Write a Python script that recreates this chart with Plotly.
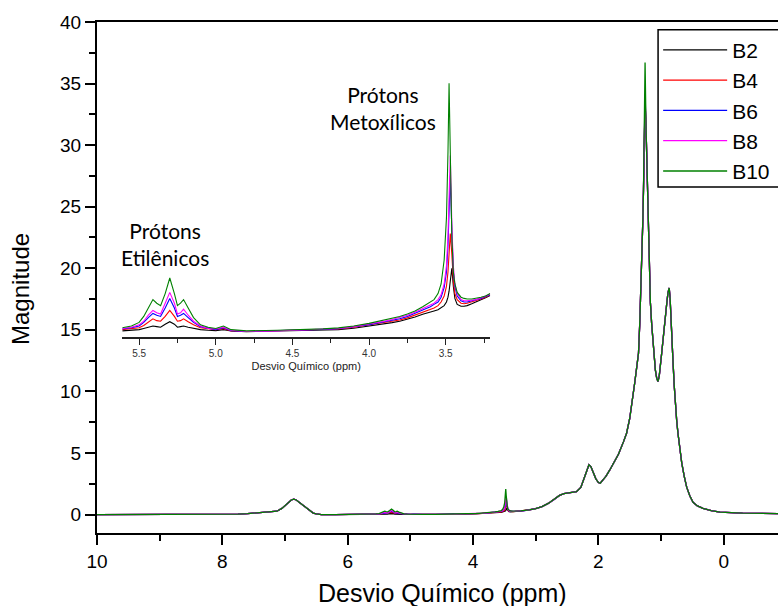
import plotly.graph_objects as go

# Sample names and trace colours
series_names = ["B2", "B4", "B6", "B8", "B10"]
series_colors = ["#000000", "#ff0000", "#0000ff", "#ff00ff", "#008000"]

# Downfield part of the spectrum (10 -> 5.65 ppm), common to all samples
ppm_high = [10.0, 9.5, 9.0, 8.5, 8.0, 7.75, 7.6, 7.48, 7.3, 7.13, 7.05, 7.0, 6.95,
            6.9, 6.86, 6.82, 6.77, 6.7, 6.65, 6.6, 6.55, 6.5, 6.42, 6.2, 6.0, 5.8, 5.65]
mag_high = [0.0, 0.0, 0.0, 0.01, 0.01, 0.03, 0.07, 0.13, 0.2, 0.27, 0.5, 0.72, 0.98,
            1.18, 1.25, 1.18, 0.98, 0.7, 0.48, 0.3, 0.12, 0.05, 0.0, 0.0, 0.0, 0.01, 0.02]

# Ethylenic / methoxy window (5.61 -> 3.21 ppm), one list per sample
ppm_mid = [5.61, 5.55, 5.5, 5.47, 5.44, 5.41, 5.385, 5.36, 5.33, 5.30, 5.27, 5.25, 5.23,
           5.21, 5.18, 5.145, 5.10, 5.05, 5.0, 4.95, 4.9, 4.8, 4.6, 4.4, 4.3, 4.2, 4.1,
           4.0, 3.95, 3.9, 3.85, 3.8, 3.75, 3.7, 3.65, 3.6, 3.576, 3.55, 3.53, 3.51,
           3.495, 3.485, 3.478, 3.47, 3.46, 3.45, 3.44, 3.425, 3.40, 3.38, 3.36, 3.33,
           3.30, 3.27, 3.24, 3.21]
b2_mid = [0.01, 0.015, 0.02, 0.03, 0.04, 0.05, 0.045, 0.04, 0.065, 0.086, 0.065, 0.04, 0.045,
          0.05, 0.04, 0.03, 0.02, 0.015, 0.012, 0.02, 0.008, 0.003, 0.008, 0.012, 0.015, 0.02, 0.032,
          0.048, 0.058, 0.068, 0.078, 0.09, 0.105, 0.125, 0.148, 0.17, 0.175, 0.185, 0.2, 0.22,
          0.25, 0.29, 0.34, 0.42, 0.53, 0.38, 0.28, 0.23, 0.215, 0.215, 0.22, 0.235,
          0.25, 0.27, 0.285, 0.305]
b4_mid = [0.02, 0.025, 0.035, 0.055, 0.085, 0.11, 0.095, 0.09, 0.13, 0.18, 0.13, 0.09, 0.095,
          0.11, 0.085, 0.06, 0.035, 0.025, 0.02, 0.03, 0.01, 0.005, 0.01, 0.015, 0.019, 0.025, 0.04,
          0.058, 0.068, 0.078, 0.09, 0.1, 0.118, 0.14, 0.165, 0.19, 0.2, 0.22, 0.25, 0.3,
          0.38, 0.5, 0.62, 0.82, 0.65, 0.42, 0.32, 0.27, 0.24, 0.235, 0.24, 0.25,
          0.26, 0.275, 0.29, 0.31]
b6_mid = [0.025, 0.035, 0.05, 0.08, 0.12, 0.155, 0.14, 0.13, 0.2, 0.28, 0.2, 0.13, 0.14,
          0.155, 0.12, 0.08, 0.045, 0.03, 0.02, 0.035, 0.012, 0.005, 0.01, 0.017, 0.022, 0.028, 0.043,
          0.062, 0.073, 0.085, 0.097, 0.11, 0.13, 0.155, 0.18, 0.21, 0.23, 0.25, 0.29, 0.37,
          0.5, 0.72, 1.0, 1.3, 0.85, 0.5, 0.38, 0.3, 0.26, 0.25, 0.25, 0.26,
          0.265, 0.28, 0.295, 0.31]
b8_mid = [0.03, 0.04, 0.06, 0.09, 0.14, 0.18, 0.16, 0.15, 0.24, 0.33, 0.24, 0.15, 0.16,
          0.19, 0.14, 0.09, 0.05, 0.03, 0.025, 0.04, 0.015, 0.005, 0.01, 0.018, 0.023, 0.03, 0.045,
          0.066, 0.078, 0.09, 0.104, 0.12, 0.14, 0.165, 0.195, 0.22, 0.24, 0.27, 0.31, 0.4,
          0.55, 0.8, 1.1, 1.47, 0.9, 0.55, 0.4, 0.32, 0.27, 0.26, 0.26, 0.265,
          0.27, 0.285, 0.3, 0.315]
b10_mid = [0.036, 0.05, 0.08, 0.13, 0.2, 0.27, 0.24, 0.22, 0.32, 0.45, 0.32, 0.22, 0.24,
           0.27, 0.2, 0.12, 0.06, 0.04, 0.03, 0.05, 0.02, 0.01, 0.015, 0.02, 0.026, 0.035, 0.05,
           0.072, 0.085, 0.098, 0.112, 0.13, 0.15, 0.175, 0.21, 0.25, 0.27, 0.32, 0.4, 0.6,
           0.95, 1.5, 2.07, 1.5, 0.8, 0.5, 0.4, 0.33, 0.29, 0.28, 0.275, 0.275,
           0.28, 0.29, 0.3, 0.32]

# Upfield part (3.18 -> -0.87 ppm), common to all samples except the apex at 1.255 ppm
ppm_low = [3.18, 3.1, 3.0, 2.9, 2.8, 2.7, 2.62, 2.55, 2.45, 2.35, 2.28, 2.22, 2.18, 2.15,
           2.12, 2.08, 2.04, 2.0, 1.97, 1.93, 1.88, 1.82, 1.75, 1.68, 1.6, 1.55, 1.5, 1.45,
           1.42, 1.38, 1.36, 1.34, 1.33, 1.31, 1.29, 1.28, 1.27, 1.255, 1.24, 1.23, 1.21,
           1.20, 1.185, 1.17, 1.15, 1.13, 1.11, 1.09, 1.07, 1.05, 1.03, 1.01, 0.99, 0.96,
           0.94, 0.91, 0.89, 0.87, 0.855, 0.84, 0.82, 0.81, 0.79, 0.77, 0.75, 0.73, 0.7,
           0.67, 0.63, 0.59, 0.54, 0.49, 0.42, 0.33, 0.2, 0.06, -0.3, -0.87]
mag_low = [0.32, 0.38, 0.48, 0.65, 0.9, 1.25, 1.55, 1.7, 1.75, 1.85, 2.2, 3.0, 3.7, 4.05,
           3.9, 3.4, 2.9, 2.6, 2.55, 2.8, 3.1, 3.6, 4.2, 4.9, 5.9, 6.6, 7.8, 9.5,
           10.7, 12.3, 13.1, 15.5, 16.9, 20.1, 24.0, 26.4, 30.5, None, 31.5, 29.1, 25.5,
           23.9, 19.6, 17.2, 15.5, 14.2, 12.8, 11.7, 11.1, 10.8, 11.2, 12.0, 13.1, 14.6,
           15.8, 17.1, 18.0, 18.4, 17.5, 15.3, 13.3, 12.5, 10.5, 8.7, 7.6, 6.6, 5.3,
           4.2, 3.1, 2.2, 1.5, 1.0, 0.7, 0.5, 0.32, 0.2, 0.12, 0.08]
apex_values = [33.4, 33.6, 33.8, 34.2, 36.7]  # B2, B4, B6, B8, B10 at 1.255 ppm

mid_series = [b2_mid, b4_mid, b6_mid, b8_mid, b10_mid]

fig = go.Figure()

for name, color, mid, apex in zip(series_names, series_colors, mid_series, apex_values):
    low = [apex if v is None else v for v in mag_low]
    fig.add_trace(go.Scatter(
        x=ppm_high + ppm_mid + ppm_low,
        y=mag_high + mid + low,
        mode="lines", name=name,
        line=dict(color=color, width=1.3),
        xaxis="x", yaxis="y",
    ))

# Inset: zoom on the ethylenic and methoxy protons
for name, color, mid in zip(series_names, series_colors, mid_series):
    fig.add_trace(go.Scatter(
        x=ppm_mid, y=mid, mode="lines", name=name, showlegend=False,
        line=dict(color=color, width=1.1),
        xaxis="x2", yaxis="y2",
    ))

sans = "Liberation Sans, Arial, sans-serif"
axis_font = dict(family=sans, size=19, color="#000")
label_font = dict(family="Lato, sans-serif", size=21, color="#000")

fig.update_layout(
    width=778, height=606,
    margin=dict(l=97, r=0, t=22, b=73),
    paper_bgcolor="white", plot_bgcolor="white",
    showlegend=True,
    legend=dict(
        x=0.824, y=0.985, xanchor="left", yanchor="top",
        bgcolor="rgba(0,0,0,0)", borderwidth=0,
        font=dict(family=sans, size=21, color="#000"),
        itemwidth=64, tracegroupgap=0,
    ),
    # legend frame, running past the right edge of the page
    shapes=[dict(type="rect", xref="paper", yref="paper",
                 x0=0.8239, x1=1.1, y0=0.6773, y1=0.9849,
                 line=dict(color="#000", width=1.5), fillcolor="white", layer="above")],
    xaxis=dict(
        range=[10, -0.866], domain=[0, 1],
        tickmode="linear", tick0=0, dtick=2,
        ticks="outside", ticklen=10, tickwidth=2, tickcolor="#000",
        minor=dict(dtick=1, ticks="outside", ticklen=6, tickwidth=2, tickcolor="#000"),
        showline=True, linecolor="#000", linewidth=2, mirror=True,
        showgrid=False, zeroline=False,
        tickfont=axis_font,
    ),
    yaxis=dict(
        range=[-1.5, 40], domain=[0, 1],
        tickmode="linear", tick0=0, dtick=5,
        ticks="outside", ticklen=10, tickwidth=2, tickcolor="#000",
        minor=dict(dtick=2.5, ticks="outside", ticklen=6, tickwidth=2, tickcolor="#000"),
        showline=True, linecolor="#000", linewidth=2, mirror=False,
        showgrid=False, zeroline=False,
        tickfont=axis_font,
    ),
    xaxis2=dict(
        range=[5.61, 3.21], domain=[0.0371, 0.5773], anchor="y2",
        tickmode="linear", tick0=0, dtick=0.5, tickformat=".1f",
        ticks="outside", ticklen=6, tickwidth=1.2, tickcolor="#222",
        minor=dict(dtick=0.25, ticks="outside", ticklen=4, tickwidth=1.2, tickcolor="#222"),
        showline=True, linecolor="#222", linewidth=1.5,
        showgrid=False, zeroline=False,
        tickfont=dict(family=sans, size=10, color="#333"),
        title=dict(text="Desvio Químico (ppm)", standoff=4,
                   font=dict(family=sans, size=11, color="#222")),
    ),
    yaxis2=dict(
        range=[-0.042, 2.1], domain=[0.3834, 0.887], anchor="x2",
        visible=False,
    ),
    annotations=[
        # axis titles of the main plot
        dict(text="Desvio Químico (ppm)", xref="paper", yref="paper",
             x=0.507, y=-0.117, xanchor="center", yanchor="middle", showarrow=False,
             font=dict(family=sans, size=25, color="#000")),
        dict(text="Magnitude", xref="paper", yref="paper", textangle=-90,
             x=-0.112, y=0.477, xanchor="center", yanchor="middle", showarrow=False,
             font=dict(family=sans, size=24, color="#000")),
        # peak group labels
        dict(text="Prótons<br>Metoxílicos", x=5.44, y=33.0, xref="x", yref="y",
             showarrow=False, font=label_font, align="center"),
        dict(text="Prótons<br>Etilênicos", x=8.91, y=22.0, xref="x", yref="y",
             showarrow=False, font=label_font, align="center"),
    ],
)

fig.write_html("out.html")
